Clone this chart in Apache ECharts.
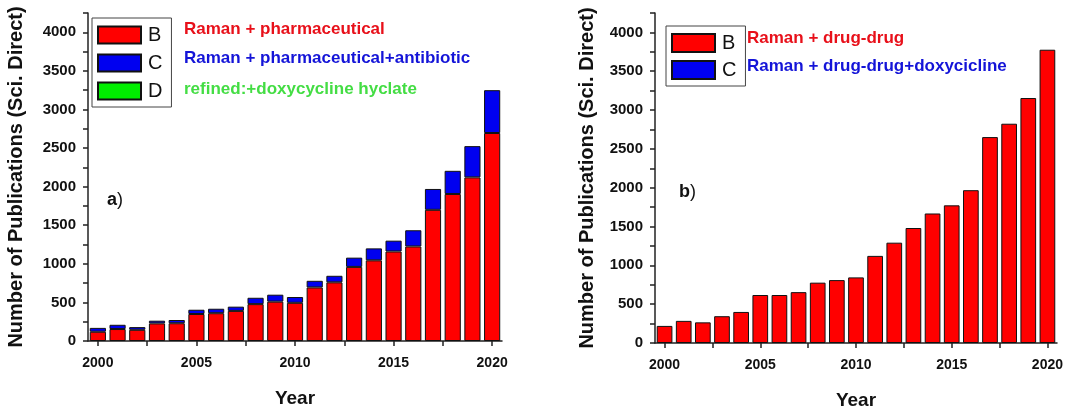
<!DOCTYPE html>
<html>
<head>
<meta charset="utf-8">
<script src="https://cdn.jsdelivr.net/npm/echarts@6/dist/echarts.min.js"></script>
<style>
  html, body { margin: 0; padding: 0; background: #fff; }
  #wrap { position: relative; width: 1087px; height: 407px; overflow: hidden; }
  #chartA { position: absolute; left: 0; top: 0; width: 540px; height: 407px; }
  #chartB { position: absolute; left: 540px; top: 0; width: 547px; height: 407px; }
</style>
</head>
<body>
<div id="wrap">
  <div id="chartA"></div>
  <div id="chartB"></div>
</div>
<script>
// Publication years shared by both panels
const years = [2000, 2001, 2002, 2003, 2004, 2005, 2006, 2007, 2008, 2009, 2010,
               2011, 2012, 2013, 2014, 2015, 2016, 2017, 2018, 2019, 2020];

// Panel a) Raman + pharmaceutical (B), extra hits with +antibiotic (C), doxycycline hyclate (D)
const pharmaB = [120, 155, 145, 228, 230, 350, 360, 390, 478, 510, 495,
                 694, 760, 960, 1045, 1160, 1225, 1700, 1905, 2120, 2695];
const pharmaC = [50, 55, 35, 35, 42, 55, 58, 55, 82, 90, 75,
                 86, 85, 120, 155, 140, 210, 270, 300, 405, 555];
const pharmaD = [];

// Panel b) Raman + drug-drug (B), +doxycicline (C)
const drugB = [220, 285, 266, 345, 400, 618, 618, 655, 777, 810, 845,
               1122, 1292, 1481, 1668, 1773, 1968, 2652, 2824, 3155, 3777];
const drugC = [];

// Axis tick positions and labels
const yLabelValues = [0, 500, 1000, 1500, 2000, 2500, 3000, 3500, 4000];
const yTickValues = [0, 250, 500, 750, 1000, 1250, 1500, 1750, 2000, 2250, 2500,
                     2750, 3000, 3250, 3500, 3750, 4000, 4250];
const xLabelValues = [2000, 2005, 2010, 2015, 2020];
const xTickValues = [2000, 2002.5, 2005, 2007.5, 2010, 2012.5, 2015, 2017.5, 2020];

const RED = '#ff0000', BLUE = '#0000f0', GREEN = '#00ee00';
const FONT = 'Liberation Sans, Arial, sans-serif';
const AXIS_COLOR = '#222';
const plain = v => String(v);

// Bars sit on a hidden category axis; a value axis over the same span draws ticks and labels
function xAxesOpt() {
  return [
    { type: 'category', data: years, show: false, boundaryGap: true },
    {
      type: 'value', min: 1999.5, max: 2020.5, position: 'bottom',
      name: 'Year', nameLocation: 'middle', nameGap: 48,
      nameTextStyle: { fontFamily: FONT, fontWeight: 'bold', fontSize: 19, color: '#111' },
      axisLine: { show: true, lineStyle: { color: AXIS_COLOR, width: 1.5 } },
      axisTick: { show: true, inside: false, length: 5, customValues: xTickValues,
                  lineStyle: { color: AXIS_COLOR, width: 1.5 } },
      axisLabel: { customValues: xLabelValues, formatter: plain, margin: 15, fontFamily: FONT,
                   fontWeight: 'bold', fontSize: 14, color: '#111' },
      splitLine: { show: false }
    }
  ];
}

function yAxisOpt(gap) {
  return {
    type: 'value', min: 0, max: 4250,
    name: 'Number of Publications (Sci. Direct)', nameLocation: 'middle', nameGap: gap,
    nameTextStyle: { fontFamily: FONT, fontWeight: 'bold', fontSize: 20, color: '#111' },
    axisLine: { show: true, lineStyle: { color: AXIS_COLOR, width: 1.5 } },
    axisTick: { show: true, inside: false, length: 5, customValues: yTickValues,
                lineStyle: { color: AXIS_COLOR, width: 1.5 } },
    axisLabel: { customValues: yLabelValues, formatter: plain, margin: 12, fontFamily: FONT,
                 fontWeight: 'bold', fontSize: 15, color: '#111' },
    splitLine: { show: false }
  };
}

function legendOpt(names, left, top, itemH, gap) {
  return {
    orient: 'vertical', left: left, top: top,
    data: names, icon: 'rect',
    itemWidth: 43, itemHeight: itemH, itemGap: gap,
    padding: [7, 9, 6, 5],
    borderColor: '#444', borderWidth: 1, borderRadius: 0,
    selectedMode: false,
    textStyle: { fontFamily: FONT, fontSize: 20, color: '#111', lineHeight: itemH, padding: [0, 0, 0, 2] }
  };
}

function barSeries(name, color, vals) {
  return {
    name: name, type: 'bar', stack: 'total', data: vals,
    xAxisIndex: 0, barCategoryGap: '18%',
    itemStyle: { color: color, borderColor: '#111', borderWidth: 1 },
    emphasis: { disabled: true }
  };
}

function note(text, x, y, color) {
  return {
    type: 'text', left: x, top: y,
    style: { text: text, fill: color, font: 'bold 17px ' + FONT }
  };
}

function panelLabel(letter, x, y) {
  return {
    type: 'text', left: x, top: y,
    style: {
      text: '{l|' + letter + '}{p|)}',
      rich: {
        l: { font: 'bold 18px ' + FONT, fill: '#111' },
        p: { font: '18px ' + FONT, fill: '#111' }
      }
    }
  };
}

const chartA = echarts.init(document.getElementById('chartA'), null, { renderer: 'canvas' });
chartA.setOption({
  animation: false,
  grid: { left: 88, top: 13, width: 414, height: 328, containLabel: false, outerBoundsMode: 'none' },
  xAxis: xAxesOpt(),
  yAxis: yAxisOpt(62),
  legend: legendOpt(['B', 'C', 'D'], 92, 18, 17, 8),
  series: [
    barSeries('B', RED, pharmaB),
    barSeries('C', BLUE, pharmaC),
    barSeries('D', GREEN, pharmaD)
  ],
  graphic: [
    note('Raman + pharmaceutical', 184, 21, '#e8101a'),
    note('Raman + pharmaceutical+antibiotic', 184, 50, '#1414d8'),
    note('refined:+doxycycline hyclate', 184, 81, '#44dd44'),
    panelLabel('a', 107, 191)
  ]
});

const chartB = echarts.init(document.getElementById('chartB'), null, { renderer: 'canvas' });
chartB.setOption({
  animation: false,
  grid: { left: 115, top: 13, width: 402, height: 330, containLabel: false, outerBoundsMode: 'none' },
  xAxis: xAxesOpt(),
  yAxis: yAxisOpt(58),
  legend: legendOpt(['B', 'C'], 126, 26, 18, 7),
  series: [
    barSeries('B', RED, drugB),
    barSeries('C', BLUE, drugC)
  ],
  graphic: [
    note('Raman + drug-drug', 207, 30, '#e8101a'),
    note('Raman + drug-drug+doxycicline', 207, 58, '#1414d8'),
    panelLabel('b', 139, 183)
  ]
});
</script>
</body>
</html>
